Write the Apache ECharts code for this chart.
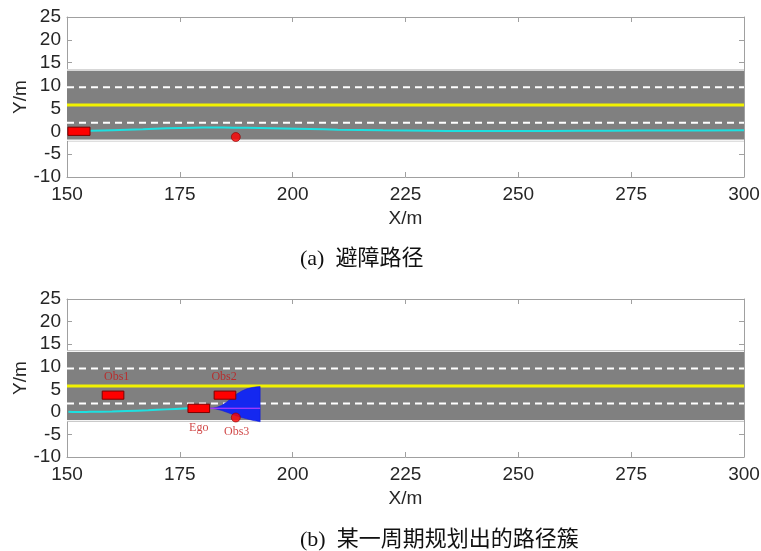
<!DOCTYPE html>
<html>
<head>
<meta charset="utf-8">
<script src="https://cdn.jsdelivr.net/npm/echarts/dist/echarts.min.js"></script>
<style>
  html, body { margin: 0; padding: 0; background: #fff; }
  #chart { width: 761px; height: 551px; }
</style>
</head>
<body>
<div id="chart"></div>
<script>
// ---- axis ranges and ticks ----
const xRange = [150, 300];
const xStep = 25;
const yRange = [-10, 25];
const yStep = 5;

// ---- road geometry (lateral position, m) ----
const roadBand = [-2.2, 13.65];
const roadEdges = [-1.97, 13.4];
const laneDashes = [1.875, 9.625];
const centerLine = 5.75;

// ---- (a) obstacle-avoidance path ----
const pathA = [
  [155, 0.1], [160, 0.25], [166.8, 0.45], [172, 0.65], [178, 0.78], [182, 0.82],
  [187, 0.8], [192.8, 0.72], [198, 0.62], [203.8, 0.5], [210, 0.35], [220, 0.2],
  [230, 0.1], [238.6, 0.05], [245, 0.05], [257, 0.08], [270, 0.12], [285, 0.17], [300, 0.22]
];
const egoA = [150.2, -0.9, 155.1, 0.9];      // [xMin, yMin, xMax, yMax]
const obs3 = [187.4, -1.25];                  // round obstacle centre

// ---- (b) path cluster of one planning cycle ----
const pathB = [
  [150.3, 0.05], [151.8, -0.05], [155, 0.0], [160, 0.1], [163.2, 0.2],
  [168, 0.35], [172, 0.55], [176.8, 0.8]
];
const egoB = [176.8, -0.15, 181.6, 1.7];
const obs1 = [157.8, 2.8, 162.6, 4.6];
const obs2 = [182.6, 2.8, 187.4, 4.6];
const fanUpper = [
  [181.7, 0.82], [182.4, 0.88], [183.2, 1.02], [184.3, 1.45], [185.4, 2.2], [186.5, 3.1],
  [187.6, 3.95], [188.7, 4.6], [189.8, 5.1], [191, 5.4], [192, 5.55], [192.8, 5.6]
];
const fanLower = [
  [192.8, -2.2], [192, -2.05], [191, -1.85], [189.8, -1.55], [188.7, -1.25], [187.6, -0.9],
  [186.5, -0.5], [185.4, -0.1], [184.3, 0.3], [183.2, 0.58], [182.4, 0.72], [181.7, 0.78]
];
const chosenPath = [[181.7, 0.8], [192.8, 0.8]];
const labelNames = ['Obs1', 'Obs2', 'Ego', 'Obs3'];
const labelPos = [[161.0, 7.7], [184.8, 7.7], [179.2, -3.6], [187.6, -4.5]];

// ---- captions ----
const captionA = '(a)  避障路径';
const captionB = '(b)  某一周期规划出的路径簇';

const frameColor = '#a0a0a0';
const tickFont = { fontFamily: 'Liberation Sans, Arial, sans-serif', fontSize: 19, color: '#262626' };

function rectSeries(gridIdx, boxes, fill, stroke, z) {
  return {
    type: 'custom', xAxisIndex: gridIdx * 2, yAxisIndex: gridIdx * 2, z: z, silent: true,
    data: boxes,
    renderItem: function (params, api) {
      const p0 = api.coord([api.value(0), api.value(3)]);
      const p1 = api.coord([api.value(2), api.value(1)]);
      return {
        type: 'rect',
        shape: { x: p0[0], y: p0[1], width: p1[0] - p0[0], height: p1[1] - p0[1] },
        style: { fill: fill, stroke: stroke, lineWidth: stroke ? 1 : 0 }
      };
    }
  };
}

function hLine(gridIdx, y, color, width, type, z) {
  return {
    type: 'line', xAxisIndex: gridIdx * 2, yAxisIndex: gridIdx * 2, z: z, silent: true,
    symbol: 'none', data: [[xRange[0], y], [xRange[1], y]],
    lineStyle: { color: color, width: width, type: type }
  };
}

function roadSeries(gridIdx) {
  const s = [rectSeries(gridIdx, [[xRange[0], roadBand[0], xRange[1], roadBand[1]]], '#808080', null, 1)];
  roadEdges.forEach(y => s.push(hLine(gridIdx, y, '#f4f4f4', 1.5, 'solid', 2)));
  laneDashes.forEach(y => s.push(hLine(gridIdx, y, '#ffffff', 2, [7, 5], 2)));
  s.push(hLine(gridIdx, centerLine, '#f2f200', 3, 'solid', 2));
  return s;
}

function pathSeries(gridIdx, pts, color, width, z) {
  return {
    type: 'line', xAxisIndex: gridIdx * 2, yAxisIndex: gridIdx * 2, z: z, silent: true,
    symbol: 'none', smooth: 0.3, data: pts,
    lineStyle: { color: color, width: width }
  };
}

function circleSeries(gridIdx) {
  return {
    type: 'scatter', xAxisIndex: gridIdx * 2, yAxisIndex: gridIdx * 2, z: 6, silent: true,
    symbol: 'circle', symbolSize: 9, data: [obs3],
    itemStyle: { color: '#ff0000', borderColor: '#8a0000', borderWidth: 0.8 }
  };
}

function makeXAxes(gridIdx) {
  const base = {
    gridIndex: gridIdx, type: 'value', min: xRange[0], max: xRange[1], interval: xStep,
    splitLine: { show: false }, z: 0,
    axisLine: { show: true, onZero: false, lineStyle: { color: frameColor, width: 1 } },
    axisTick: { show: true, inside: true, length: 5, lineStyle: { color: frameColor } }
  };
  return [
    Object.assign({}, base, {
      position: 'bottom',
      axisLabel: Object.assign({ margin: 8 }, tickFont),
      name: 'X/m', nameLocation: 'middle', nameGap: 32,
      nameTextStyle: { fontFamily: tickFont.fontFamily, fontSize: 19, color: '#262626' }
    }),
    Object.assign({}, base, { position: 'top', axisLabel: { show: false } })
  ];
}

function makeYAxes(gridIdx) {
  const base = {
    gridIndex: gridIdx, type: 'value', min: yRange[0], max: yRange[1], interval: yStep,
    splitLine: { show: false }, z: 0,
    axisLine: { show: true, onZero: false, lineStyle: { color: frameColor, width: 1 } },
    axisTick: { show: true, inside: true, length: 5, lineStyle: { color: frameColor } }
  };
  return [
    Object.assign({}, base, {
      position: 'left',
      axisLabel: Object.assign({ margin: 6 }, tickFont),
      name: 'Y/m', nameLocation: 'middle', nameGap: 37, nameRotate: 90, nameMoveOverlap: false,
      nameTextStyle: { fontFamily: tickFont.fontFamily, fontSize: 19, color: '#262626' }
    }),
    Object.assign({}, base, { position: 'right', axisLabel: { show: false } })
  ];
}

const series = [];
// panel (a)
series.push(...roadSeries(0));
series.push(pathSeries(0, pathA, '#1de0e0', 2, 3));
series.push(rectSeries(0, [egoA], '#ff0000', '#7a0000', 5));
series.push(circleSeries(0));

// panel (b)
series.push(...roadSeries(1));
series.push(pathSeries(1, pathB, '#1de0e0', 2, 3));
series.push({
  type: 'custom', xAxisIndex: 2, yAxisIndex: 2, z: 4, silent: true,
  data: [[0]],
  renderItem: function (params, api) {
    const pts = fanUpper.concat(fanLower).map(p => api.coord(p));
    return {
      type: 'polygon',
      shape: { points: pts, smooth: 0 },
      style: { fill: '#1428f0', stroke: '#0a14d8', lineWidth: 0.5 }
    };
  }
});
series.push({
  type: 'line', xAxisIndex: 2, yAxisIndex: 2, z: 4, silent: true, symbol: 'none',
  data: chosenPath, lineStyle: { color: '#d040ff', width: 1 }
});
series.push(rectSeries(1, [egoB, obs1, obs2], '#ff0000', '#7a0000', 5));
series.push(circleSeries(1));
series.push({
  type: 'scatter', xAxisIndex: 2, yAxisIndex: 2, z: 7, silent: true,
  symbolSize: 0,
  data: labelPos.map((p, i) => ({ value: p, name: labelNames[i] })),
  label: {
    show: true, position: 'inside', formatter: '{b}',
    fontFamily: 'Liberation Serif, Times New Roman, serif', fontSize: 12, color: '#c41818'
  }
});

const chart = echarts.init(document.getElementById('chart'), null, { renderer: 'canvas' });
chart.setOption({
  animation: false,
  backgroundColor: '#ffffff',
  grid: [
    { left: 67, top: 17, width: 677, height: 160, outerBoundsMode: 'none', containLabel: false },
    { left: 67, top: 299, width: 677, height: 158, outerBoundsMode: 'none', containLabel: false }
  ],
  xAxis: [...makeXAxes(0), ...makeXAxes(1)],
  yAxis: [...makeYAxes(0), ...makeYAxes(1)],
  series: series,
  graphic: [
    { type: 'text', left: 300, top: 248,
      style: { text: captionA, font: '22px "Liberation Serif", "Noto Sans CJK SC", serif', fill: '#111' } },
    { type: 'text', left: 300, top: 529,
      style: { text: captionB, font: '22px "Liberation Serif", "Noto Sans CJK SC", serif', fill: '#111' } }
  ]
});
</script>
</body>
</html>
